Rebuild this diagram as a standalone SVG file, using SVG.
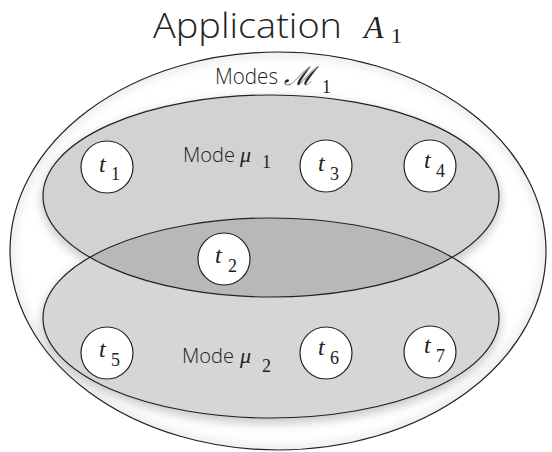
<svg xmlns="http://www.w3.org/2000/svg" width="552" height="452" viewBox="0 0 552 452">
  <style>
    .lbl { font-family: "Open Sans", "Liberation Sans", sans-serif; font-weight: 300; fill: #222; }
    .math { font-family: "Liberation Serif", "DejaVu Serif", serif; font-style: italic; font-weight: 400; fill: #222; }
    .sub { font-family: "Liberation Serif", "DejaVu Serif", serif; font-style: normal; font-weight: 400; fill: #222; }
    .task { fill: #ffffff; stroke: #222; stroke-width: 1.2; }
    .edge { fill: none; stroke: #222; stroke-width: 1.2; }
  </style>
  <defs>
    <filter id="soft" x="-20%" y="-20%" width="140%" height="140%">
      <feGaussianBlur stdDeviation="5"/>
    </filter>
    <clipPath id="clipMu1">
      <ellipse cx="271" cy="196" rx="228" ry="101"/>
    </clipPath>
    <clipPath id="clipOuter">
      <ellipse cx="278" cy="251" rx="268" ry="199"/>
    </clipPath>
  </defs>

  <rect width="552" height="452" fill="#ffffff"/>

  <!-- title -->
  <g id="title">
    <text class="lbl" x="153" y="38" font-size="35" textLength="189" lengthAdjust="spacingAndGlyphs">Application</text>
    <text class="math" x="364" y="38" font-size="32">A</text>
    <text class="sub" x="391" y="43" font-size="22">1</text>
  </g>

  <!-- set of modes -->
  <g id="modes">
    <ellipse cx="278" cy="251" rx="268" ry="199" fill="#ffffff"/>
    <g clip-path="url(#clipOuter)" opacity="0.6">
      <ellipse cx="278" cy="251" rx="268" ry="199" fill="none" stroke="#d8d8d8" stroke-width="8" filter="url(#soft)"/>
    </g>
    <ellipse cx="278" cy="251" rx="268" ry="199" class="edge"/>
    <text class="lbl" x="215" y="84" font-size="22" textLength="63" lengthAdjust="spacingAndGlyphs">Modes</text>
    <text class="math" x="284" y="85" font-size="26">ℳ</text>
    <text class="sub" x="322" y="93" font-size="18">1</text>
  </g>

  <!-- mode shadows -->
  <g id="shadows" opacity="0.5">
    <ellipse cx="271" cy="200" rx="230" ry="103" fill="#9a9a9a" filter="url(#soft)"/>
    <ellipse cx="271" cy="322" rx="230" ry="102" fill="#9a9a9a" filter="url(#soft)"/>
  </g>

  <!-- mode mu1 -->
  <g id="mode-mu1">
    <ellipse cx="271" cy="196" rx="228" ry="101" fill="#d2d2d2"/>
  </g>

  <!-- mode mu2 -->
  <g id="mode-mu2">
    <ellipse cx="271" cy="318" rx="228" ry="100" fill="#d6d6d6"/>
    <ellipse cx="271" cy="318" rx="228" ry="100" fill="#b8b8b8" clip-path="url(#clipMu1)"/>
  </g>

  <!-- mode outlines -->
  <g id="outlines">
    <ellipse cx="271" cy="196" rx="228" ry="101" class="edge"/>
    <ellipse cx="271" cy="318" rx="228" ry="100" class="edge"/>
  </g>

  <g id="label-mu1">
    <text class="lbl" x="183" y="162" font-size="21" textLength="52" lengthAdjust="spacingAndGlyphs">Mode</text>
    <text class="math" x="240" y="162" font-size="22">μ</text>
    <text class="sub" x="262" y="168" font-size="18">1</text>
  </g>
  <g id="label-mu2">
    <text class="lbl" x="182" y="363" font-size="21" textLength="52" lengthAdjust="spacingAndGlyphs">Mode</text>
    <text class="math" x="240" y="363" font-size="22">μ</text>
    <text class="sub" x="262" y="372" font-size="18">2</text>
  </g>

  <!-- tasks -->
  <g id="t1">
    <circle class="task" cx="107" cy="167" r="26"/>
    <text class="math" x="99" y="172" font-size="24">t</text>
    <text class="sub" x="111" y="180" font-size="18">1</text>
  </g>
  <g id="t2">
    <circle class="task" cx="224" cy="259" r="26"/>
    <text class="math" x="215" y="263" font-size="24">t</text>
    <text class="sub" x="228" y="272" font-size="18">2</text>
  </g>
  <g id="t3">
    <circle class="task" cx="326" cy="166" r="26"/>
    <text class="math" x="318" y="171" font-size="24">t</text>
    <text class="sub" x="330" y="180" font-size="18">3</text>
  </g>
  <g id="t4">
    <circle class="task" cx="430" cy="166" r="26"/>
    <text class="math" x="424" y="168" font-size="24">t</text>
    <text class="sub" x="436" y="177" font-size="18">4</text>
  </g>
  <g id="t5">
    <circle class="task" cx="107" cy="353" r="26"/>
    <text class="math" x="99" y="357" font-size="24">t</text>
    <text class="sub" x="111" y="366" font-size="18">5</text>
  </g>
  <g id="t6">
    <circle class="task" cx="326" cy="353" r="26"/>
    <text class="math" x="318" y="355" font-size="24">t</text>
    <text class="sub" x="330" y="364" font-size="18">6</text>
  </g>
  <g id="t7">
    <circle class="task" cx="430" cy="352" r="26"/>
    <text class="math" x="424" y="353" font-size="24">t</text>
    <text class="sub" x="436" y="362" font-size="18">7</text>
  </g>
</svg>
